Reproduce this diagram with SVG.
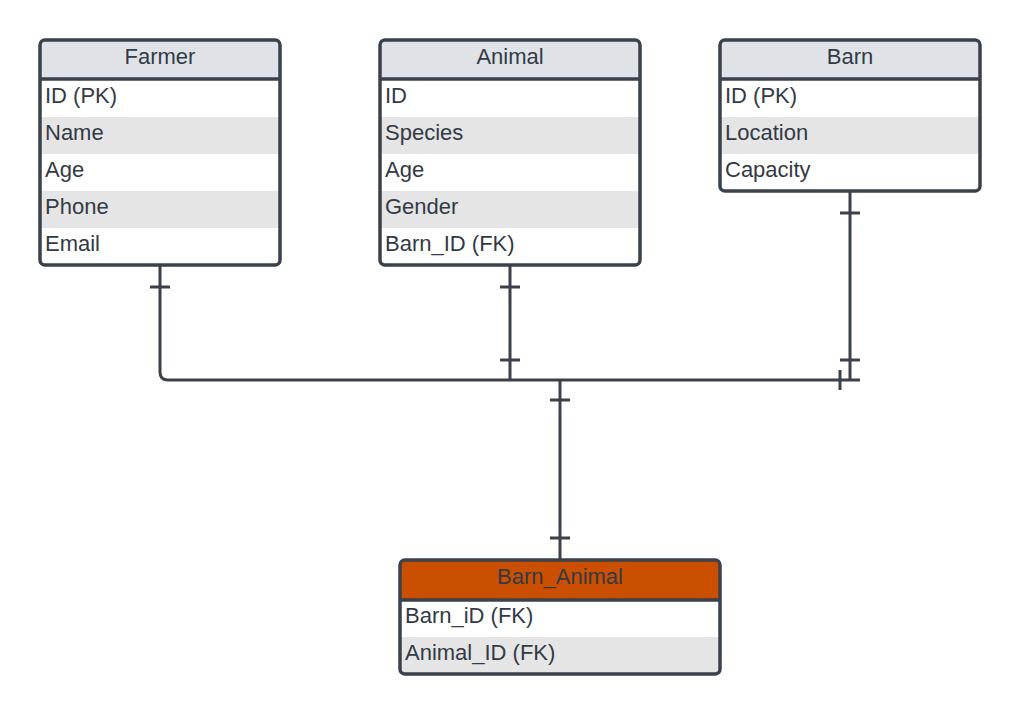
<svg xmlns="http://www.w3.org/2000/svg" width="1020" height="714" viewBox="0 0 1020 714">
<style>
.hdr{fill:#dfe3e8}
.alt{fill:#e5e5e5}
.frame{fill:none;stroke:#3a414b;stroke-width:3.5}
.t{font-family:"Liberation Sans",Arial,sans-serif;font-size:22px;fill:#333a45}
.c{text-anchor:middle}
.ln{fill:none;stroke:#3a414b;stroke-width:3}
</style>
<rect width="1020" height="714" fill="#ffffff"/>
<g id="connectors">
<path class="ln" d="M160 265 V372 Q160 380 168 380 H840"/>
<path class="ln" d="M510 265 V380"/>
<path class="ln" d="M850 191 V380"/>
<path class="ln" d="M560 380 V560"/>
<path class="ln" d="M150 287 H170 M500 287 H520 M500 360 H520 M840 213 H860 M840 360 H860 M840 380 H860 M840 370 V390 M550 400 H570 M550 538 H570"/>
</g>
<g id="farmer">
<rect x="40" y="40" width="240" height="225" rx="5" fill="#ffffff"/>
<path class="hdr" d="M45 40 H275 Q280 40 280 45 V79 H40 V45 Q40 40 45 40 Z"/>
<rect class="alt" x="40" y="117" width="240" height="37"/>
<rect class="alt" x="40" y="191" width="240" height="37"/>
<line x1="40" y1="79" x2="280" y2="79" stroke="#3a414b" stroke-width="3.5"/>
<rect class="frame" x="40" y="40" width="240" height="225" rx="5"/>
<text class="t c" x="160" y="64">Farmer</text>
<text class="t" x="45" y="103">ID (PK)</text>
<text class="t" x="45" y="140">Name</text>
<text class="t" x="45" y="177">Age</text>
<text class="t" x="45" y="214">Phone</text>
<text class="t" x="45" y="251">Email</text>
</g>
<g id="animal">
<rect x="380" y="40" width="260" height="225" rx="5" fill="#ffffff"/>
<path class="hdr" d="M385 40 H635 Q640 40 640 45 V79 H380 V45 Q380 40 385 40 Z"/>
<rect class="alt" x="380" y="117" width="260" height="37"/>
<rect class="alt" x="380" y="191" width="260" height="37"/>
<line x1="380" y1="79" x2="640" y2="79" stroke="#3a414b" stroke-width="3.5"/>
<rect class="frame" x="380" y="40" width="260" height="225" rx="5"/>
<text class="t c" x="510" y="64">Animal</text>
<text class="t" x="385" y="103">ID</text>
<text class="t" x="385" y="140">Species</text>
<text class="t" x="385" y="177">Age</text>
<text class="t" x="385" y="214">Gender</text>
<text class="t" x="385" y="251">Barn_ID (FK)</text>
</g>
<g id="barn">
<rect x="720" y="40" width="260" height="151" rx="5" fill="#ffffff"/>
<path class="hdr" d="M725 40 H975 Q980 40 980 45 V79 H720 V45 Q720 40 725 40 Z"/>
<rect class="alt" x="720" y="117" width="260" height="37"/>
<line x1="720" y1="79" x2="980" y2="79" stroke="#3a414b" stroke-width="3.5"/>
<rect class="frame" x="720" y="40" width="260" height="151" rx="5"/>
<text class="t c" x="850" y="64">Barn</text>
<text class="t" x="725" y="103">ID (PK)</text>
<text class="t" x="725" y="140">Location</text>
<text class="t" x="725" y="177">Capacity</text>
</g>
<g id="barn_animal">
<rect x="400" y="560" width="320" height="114" rx="5" fill="#ffffff"/>
<path d="M405 560 H715 Q720 560 720 565 V600 H400 V565 Q400 560 405 560 Z" fill="#cb4f00"/>
<rect class="alt" x="400" y="637" width="320" height="37"/>
<line x1="400" y1="600" x2="720" y2="600" stroke="#3a414b" stroke-width="3.5"/>
<rect class="frame" x="400" y="560" width="320" height="114" rx="5"/>
<text class="t c" x="560" y="584">Barn_Animal</text>
<text class="t" x="405" y="623">Barn_iD (FK)</text>
<text class="t" x="405" y="660">Animal_ID (FK)</text>
</g>
</svg>
